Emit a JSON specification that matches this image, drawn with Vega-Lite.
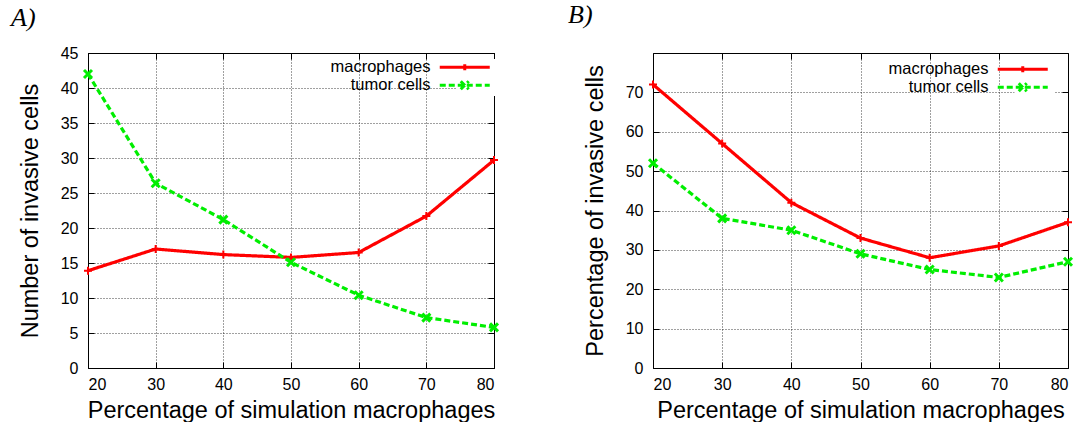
{
  "$schema": "https://vega.github.io/schema/vega-lite/v6.json",
  "autosize": {"type": "pad"},
  "padding": {"left": 10, "top": 1, "right": 0, "bottom": 0},
  "spacing": 159,
  "bounds": "flush",
  "background": "white",
  "resolve": {
    "scale": {"color": "independent", "shape": "independent", "strokeDash": "independent"},
    "legend": {"color": "independent", "shape": "independent", "strokeDash": "independent"}
  },
  "config": {
    "font": "Liberation Sans",
    "view": {"stroke": "black", "strokeWidth": 1},
    "axis": {
      "domain": false,
      "tickColor": "black",
      "tickSize": -6,
      "tickWidth": 1,
      "labelColor": "black",
      "labelFont": "Liberation Sans",
      "labelFontSize": 16,
      "titleFont": "Liberation Sans",
      "titleFontSize": 23.5,
      "titleFontWeight": "normal",
      "titleColor": "black",
      "gridColor": "black",
      "gridDash": [1, 2],
      "gridOpacity": 0.75,
      "gridWidth": 1
    },
    "legend": {
      "orient": "none",
      "title": null,
      "padding": 0,
      "labelFont": "Liberation Sans",
      "labelFontSize": 16.5,
      "labelColor": "black",
      "labelAlign": "right",
      "labelOffset": -42.5,
      "symbolSize": 100,
      "symbolStrokeWidth": 3,
      "rowPadding": -3,
      "fillColor": "white"
    },
    "title": {
      "font": "Liberation Serif",
      "fontStyle": "italic",
      "fontWeight": "normal",
      "fontSize": 26,
      "color": "black",
      "anchor": "start",
      "frame": "group",
      "baseline": "alphabetic"
    }
  },
  "datasets": {
    "a": [
      {"x": 20, "series": "macrophages", "value": 13.9},
      {"x": 30, "series": "macrophages", "value": 17.0},
      {"x": 40, "series": "macrophages", "value": 16.2},
      {"x": 50, "series": "macrophages", "value": 15.8},
      {"x": 60, "series": "macrophages", "value": 16.5},
      {"x": 70, "series": "macrophages", "value": 21.7},
      {"x": 80, "series": "macrophages", "value": 29.7},
      {"x": 20, "series": "tumor cells", "value": 42.0},
      {"x": 30, "series": "tumor cells", "value": 26.4},
      {"x": 40, "series": "tumor cells", "value": 21.2},
      {"x": 50, "series": "tumor cells", "value": 15.1},
      {"x": 60, "series": "tumor cells", "value": 10.4},
      {"x": 70, "series": "tumor cells", "value": 7.2},
      {"x": 80, "series": "tumor cells", "value": 5.8}
    ],
    "b": [
      {"x": 20, "series": "macrophages", "value": 72},
      {"x": 30, "series": "macrophages", "value": 57},
      {"x": 40, "series": "macrophages", "value": 42},
      {"x": 50, "series": "macrophages", "value": 33},
      {"x": 60, "series": "macrophages", "value": 28},
      {"x": 70, "series": "macrophages", "value": 31},
      {"x": 80, "series": "macrophages", "value": 37},
      {"x": 20, "series": "tumor cells", "value": 52},
      {"x": 30, "series": "tumor cells", "value": 38},
      {"x": 40, "series": "tumor cells", "value": 35},
      {"x": 50, "series": "tumor cells", "value": 29},
      {"x": 60, "series": "tumor cells", "value": 25},
      {"x": 70, "series": "tumor cells", "value": 23},
      {"x": 80, "series": "tumor cells", "value": 27}
    ]
  },
  "hconcat": [
    {
      "width": 406,
      "height": 315,
      "title": {"text": "A)", "dx": -77, "offset": 14},
      "data": {"name": "a"},
      "layer": [
        {
          "transform": [{"filter": "false"}],
          "mark": {"type": "point", "filled": false, "strokeWidth": 3, "opacity": 1},
          "encoding": {
            "x": {"field": "x", "type": "quantitative", "scale": {"domain": [20, 80]}, "axis": null},
            "y": {"field": "value", "type": "quantitative", "scale": {"domain": [0, 45]}, "axis": null},
            "color": {"field": "series", "type": "nominal", "scale": {"domain": ["macrophages", "tumor cells"], "range": ["#ff0000", "#00ee00"]}, "legend": {"legendX": 368.5, "legendY": 6}},
            "shape": {"field": "series", "type": "nominal", "scale": {"domain": ["macrophages", "tumor cells"], "range": ["M-5,0H5M0,-0.6V0.6", "M-5,0H-3.8M-3.2,0H-2M-1.4,0H-0.2M0.4,0H1.6M2.2,0H3.4M4,0H5M-0.8,-0.8L0.8,0.8M-0.8,0.8L0.8,-0.8"]}, "legend": {"legendX": 368.5, "legendY": 6}}
          }
        },
        {
          "mark": {"type": "line", "strokeWidth": 3.2},
          "encoding": {
            "x": {"field": "x", "type": "quantitative",
              "axis": {"orient": "bottom", "values": [20, 30, 40, 50, 60, 70, 80], "grid": true, "labelPadding": 14, "title": "Percentage of simulation macrophages", "titlePadding": 6}},
            "y": {"field": "value", "type": "quantitative",
              "axis": {"orient": "left", "values": [0, 5, 10, 15, 20, 25, 30, 35, 40, 45], "grid": true, "labelPadding": 16, "title": "Number of invasive cells", "titlePadding": 18}},
            "color": {"field": "series", "type": "nominal", "legend": null},
            "strokeDash": {"field": "series", "type": "nominal", "scale": {"domain": ["macrophages", "tumor cells"], "range": [[1, 0], [6, 3]]}, "legend": null}
          }
        },
        {
          "transform": [{"filter": "datum.series === 'macrophages'"}],
          "mark": {"type": "point", "filled": false, "shape": "M-1,0H1M0,-1V1", "size": 64, "strokeWidth": 2, "opacity": 1},
          "encoding": {
            "x": {"field": "x", "type": "quantitative", "axis": {"orient": "top", "values": [20, 30, 40, 50, 60, 70, 80], "labels": false, "grid": false, "title": null}},
            "y": {"field": "value", "type": "quantitative", "axis": {"orient": "right", "values": [0, 5, 10, 15, 20, 25, 30, 35, 40, 45], "labels": false, "grid": false, "title": null}},
            "color": {"field": "series", "type": "nominal", "legend": null}
          }
        },
        {
          "transform": [{"filter": "datum.series === 'tumor cells'"}],
          "mark": {"type": "point", "filled": false, "shape": "M-1,-1L1,1M-1,1L1,-1", "size": 64, "strokeWidth": 3, "opacity": 1},
          "encoding": {
            "x": {"field": "x", "type": "quantitative", "axis": null},
            "y": {"field": "value", "type": "quantitative", "axis": null},
            "color": {"field": "series", "type": "nominal", "legend": null}
          }
        }
      ],
      "resolve": {"axis": {"x": "independent", "y": "independent"}}
    },
    {
      "width": 415,
      "height": 315,
      "title": {"text": "B)", "dx": -85, "offset": 25},
      "data": {"name": "b"},
      "layer": [
        {
          "transform": [{"filter": "false"}],
          "mark": {"type": "point", "filled": false, "strokeWidth": 3, "opacity": 1},
          "encoding": {
            "x": {"field": "x", "type": "quantitative", "scale": {"domain": [20, 80]}, "axis": null},
            "y": {"field": "value", "type": "quantitative", "scale": {"domain": [0, 75]}, "axis": null},
            "color": {"field": "series", "type": "nominal", "scale": {"domain": ["macrophages", "tumor cells"], "range": ["#ff0000", "#00ee00"]}, "legend": {"legendX": 361.5, "legendY": 8}},
            "shape": {"field": "series", "type": "nominal", "scale": {"domain": ["macrophages", "tumor cells"], "range": ["M-5,0H5M0,-0.6V0.6", "M-5,0H-3.8M-3.2,0H-2M-1.4,0H-0.2M0.4,0H1.6M2.2,0H3.4M4,0H5M-0.8,-0.8L0.8,0.8M-0.8,0.8L0.8,-0.8"]}, "legend": {"legendX": 361.5, "legendY": 8}}
          }
        },
        {
          "mark": {"type": "line", "strokeWidth": 3.2},
          "encoding": {
            "x": {"field": "x", "type": "quantitative",
              "axis": {"orient": "bottom", "values": [20, 30, 40, 50, 60, 70, 80], "grid": true, "labelPadding": 14, "title": "Percentage of simulation macrophages", "titlePadding": 6}},
            "y": {"field": "value", "type": "quantitative",
              "axis": {"orient": "left", "values": [0, 10, 20, 30, 40, 50, 60, 70], "grid": true, "labelPadding": 16, "title": "Percentage of invasive cells", "titlePadding": 18}},
            "color": {"field": "series", "type": "nominal", "legend": null},
            "strokeDash": {"field": "series", "type": "nominal", "scale": {"domain": ["macrophages", "tumor cells"], "range": [[1, 0], [6, 3]]}, "legend": null}
          }
        },
        {
          "transform": [{"filter": "datum.series === 'macrophages'"}],
          "mark": {"type": "point", "filled": false, "shape": "M-1,0H1M0,-1V1", "size": 64, "strokeWidth": 2, "opacity": 1},
          "encoding": {
            "x": {"field": "x", "type": "quantitative", "axis": {"orient": "top", "values": [20, 30, 40, 50, 60, 70, 80], "labels": false, "grid": false, "title": null}},
            "y": {"field": "value", "type": "quantitative", "axis": {"orient": "right", "values": [0, 10, 20, 30, 40, 50, 60, 70], "labels": false, "grid": false, "title": null}},
            "color": {"field": "series", "type": "nominal", "legend": null}
          }
        },
        {
          "transform": [{"filter": "datum.series === 'tumor cells'"}],
          "mark": {"type": "point", "filled": false, "shape": "M-1,-1L1,1M-1,1L1,-1", "size": 64, "strokeWidth": 3, "opacity": 1},
          "encoding": {
            "x": {"field": "x", "type": "quantitative", "axis": null},
            "y": {"field": "value", "type": "quantitative", "axis": null},
            "color": {"field": "series", "type": "nominal", "legend": null}
          }
        }
      ],
      "resolve": {"axis": {"x": "independent", "y": "independent"}}
    }
  ]
}
